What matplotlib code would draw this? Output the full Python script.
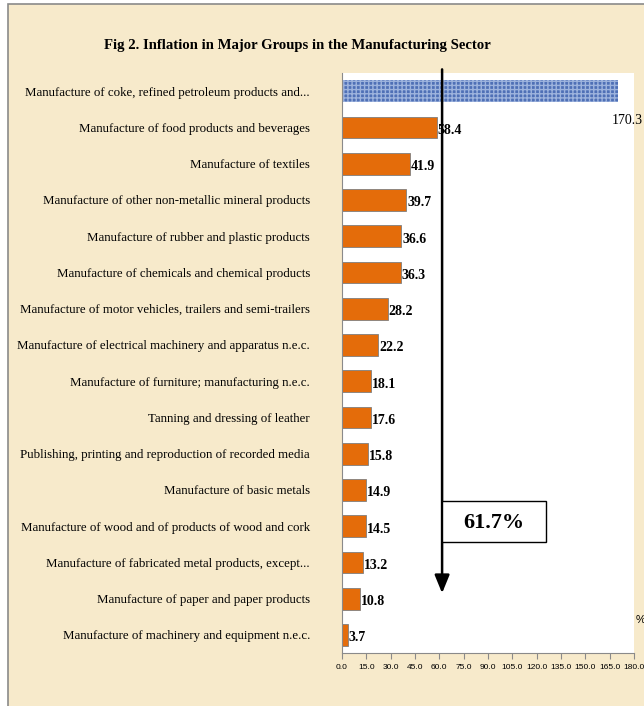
import matplotlib
matplotlib.use("Agg")
import matplotlib.pyplot as plt
from matplotlib.patches import Rectangle

categories = [
    "Manufacture of coke, refined petroleum products and...",
    "Manufacture of food products and beverages",
    "Manufacture of textiles",
    "Manufacture of other non-metallic mineral products",
    "Manufacture of rubber and plastic products",
    "Manufacture of chemicals and chemical products",
    "Manufacture of motor vehicles, trailers and semi-trailers",
    "Manufacture of electrical machinery and apparatus n.e.c.",
    "Manufacture of furniture; manufacturing n.e.c.",
    "Tanning and dressing of leather",
    "Publishing, printing and reproduction of recorded media",
    "Manufacture of basic metals",
    "Manufacture of wood and of products of wood and cork",
    "Manufacture of fabricated metal products, except...",
    "Manufacture of paper and paper products",
    "Manufacture of machinery and equipment n.e.c.",
]
values = [170.3, 58.4, 41.9, 39.7, 36.6, 36.3, 28.2, 22.2, 18.1, 17.6, 15.8, 14.9, 14.5, 13.2, 10.8, 3.7]
xticks = [0, 15, 30, 45, 60, 75, 90, 105, 120, 135, 150, 165, 180]
overall = 61.7

bg = "#F7EACB"
fig = plt.figure(figsize=(6.44, 7.06), dpi=100)
fig.patch.set_facecolor("white")
fig.patches.append(Rectangle((8/644, -0.1), 1.2, (1 - 4/706) + 0.1, transform=fig.transFigure,
                             facecolor=bg, edgecolor="#8a8a8a", linewidth=1.2, zorder=-10))

ax = fig.add_axes([342/644, 1 - 653/706, 292/644, 580/706])
ax.set_facecolor("white")
ypos = list(range(len(categories)))
colors = ["#4F70B6"] + ["#E46C0A"] * (len(values) - 1)
bars = ax.barh(ypos, values, height=0.6, color=colors, edgecolor="#7f7f7f", linewidth=0.6)
bars[0].set_hatch("++++")
bars[0].set_edgecolor("#9DB3DD")
bars[0].set_linewidth(0)

ax.set_ylim(len(categories) - 0.5, -0.5)
ax.set_xlim(0, 180)
ax.set_yticks(ypos)
ax.set_yticklabels(categories, family="Liberation Serif", fontsize=9.3)
ax.tick_params(axis="y", length=0, pad=23)
ax.set_xticks(xticks)
ax.set_xticklabels([f"{t:.1f}" for t in xticks], family="Liberation Sans", fontsize=6)
ax.tick_params(axis="x", length=4, color="#8a8a8a", pad=4)
for s in ["top", "right"]:
    ax.spines[s].set_visible(False)
ax.spines["bottom"].set_color("#8a8a8a")
ax.spines["left"].set_color("#8a8a8a")

for i, v in enumerate(values):
    if i == 0:
        ax.text(175.7, 0.8, f"{v:.1f}", ha="center", va="center",
                family="Liberation Serif", fontsize=10, clip_on=False)
    else:
        ax.text(v + 0.6, i + 0.08, f"{v:.1f}", ha="left", va="center",
                family="Liberation Serif", fontsize=10, fontweight="bold")

ax.annotate("", xy=(overall, 13.85), xytext=(overall, -0.6), xycoords="data",
            arrowprops=dict(arrowstyle="-|>,head_length=1.1,head_width=0.45",
                            color="black", lw=1.8, shrinkA=0, shrinkB=0),
            annotation_clip=False)
ax.add_patch(Rectangle((overall, 11.31), 125.8 - overall, 12.44 - 11.31,
                       facecolor="white", edgecolor="black", linewidth=1.0, zorder=5))
ax.text((overall + 125.8) / 2, 11.9, f"{overall}%", ha="center", va="center",
        family="Liberation Serif", fontsize=16, fontweight="bold", zorder=6)

ax.text(181, 14.6, "%", ha="left", va="center", family="Liberation Sans",
        fontsize=8, clip_on=False)

fig.text(297/644, 1 - 45/706, "Fig 2. Inflation in Major Groups in the Manufacturing Sector",
         ha="center", va="center", family="Liberation Serif", fontsize=10.6, fontweight="bold")

fig.savefig("out.png", dpi=100, facecolor=fig.get_facecolor())
